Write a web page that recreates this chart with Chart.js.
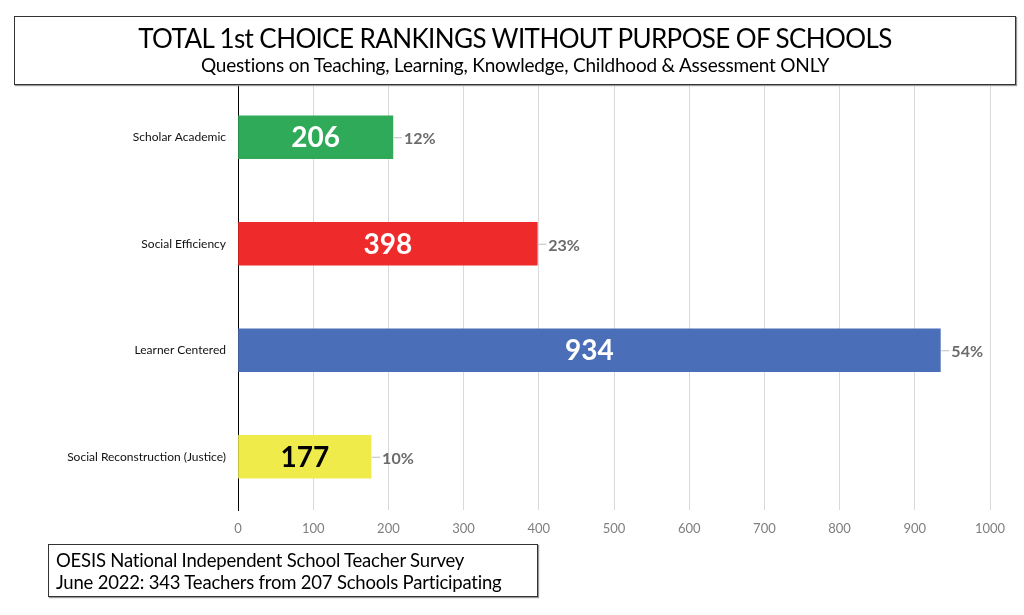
<!DOCTYPE html>
<html>
<head>
<meta charset="utf-8">
<script src="https://cdn.jsdelivr.net/npm/chart.js@4.4.1/dist/chart.umd.min.js"></script>
<style>
    html, body { margin: 0; padding: 0; background: #fff; }
    #wrap { position: relative; width: 1024px; height: 615px; font-family: Lato, 'Open Sans', sans-serif; }
    #chart { position: absolute; left: 0; top: 0; }
    .box { position: absolute; border: 1px solid #333; background: #fff; box-shadow: 1px 1px 1px #999; color: #000; }
    #titleBox { left: 14px; top: 16px; width: 1000px; height: 67px; text-align: center; }
    #titleBox .t1 { font-size: 26px; line-height: 30px; margin-top: 6px; font-weight: 400; letter-spacing: -0.6px; }
    #titleBox .t2 { font-size: 19px; line-height: 24px; font-weight: 400; letter-spacing: -0.2px; }
    #noteBox { left: 48px; top: 544px; width: 490px; height: 53px; font-size: 18.5px; line-height: 22px; padding-left: 7px; box-sizing: border-box; padding-top: 4px; font-weight: 400; letter-spacing: -0.2px; }
</style>
</head>
<body>
<div id="wrap">
    <canvas id="chart" width="1024" height="615"></canvas>
    <div class="box" id="titleBox">
        <div class="t1">TOTAL 1st CHOICE RANKINGS WITHOUT PURPOSE OF SCHOOLS</div>
        <div class="t2">Questions on Teaching, Learning, Knowledge, Childhood &amp; Assessment ONLY</div>
    </div>
    <div class="box" id="noteBox">OESIS National Independent School Teacher Survey<br>June 2022: 343 Teachers from 207 Schools Participating</div>
</div>
<script>
'use strict';

// Data
const categories = ['Scholar Academic', 'Social Efficiency', 'Learner Centered', 'Social Reconstruction (Justice)'];
const counts = [206, 398, 934, 177];
const shares = ['12%', '23%', '54%', '10%'];
const barColors = ['#2eaa58', '#ee2a2b', '#4a6fb8', '#efeb4b'];
const valueColors = ['#ffffff', '#ffffff', '#ffffff', '#000000'];
const xTicks = [0, 100, 200, 300, 400, 500, 600, 700, 800, 900, 1000];

const fontFamily = "Lato, 'Open Sans', sans-serif";

// Value labels inside the bars, share labels outside with a short leader
const barLabels = {
    id: 'barLabels',
    afterDatasetsDraw(chart) {
        const ctx = chart.ctx;
        const meta = chart.getDatasetMeta(0);
        ctx.save();
        meta.data.forEach(function (bar, i) {
            const left = bar.base;
            const right = bar.x;
            // count
            ctx.fillStyle = valueColors[i];
            ctx.font = 'bold 28px ' + fontFamily;
            ctx.textAlign = 'center';
            ctx.textBaseline = 'middle';
            ctx.fillText(String(counts[i]), (left + right) / 2, bar.y + 1);
            // leader line
            ctx.strokeStyle = '#bfbfbf';
            ctx.lineWidth = 1;
            ctx.beginPath();
            ctx.moveTo(right + 1, bar.y + 0.5);
            ctx.lineTo(right + 9, bar.y + 0.5);
            ctx.stroke();
            // share
            ctx.fillStyle = '#6b6b6b';
            ctx.font = 'bold 16px ' + fontFamily;
            ctx.textAlign = 'left';
            ctx.fillText(shares[i], right + 11, bar.y + 2);
        });
        ctx.restore();
    }
};

new Chart(document.getElementById('chart'), {
    type: 'bar',
    data: {
        labels: categories,
        datasets: [
            {
                data: counts,
                backgroundColor: barColors,
                borderWidth: 0,
                barThickness: 43
            }
        ]
    },
    options: {
        indexAxis: 'y',
        responsive: false,
        animation: false,
        layout: {
            padding: { top: 84, right: 34, bottom: 75, left: 0 }
        },
        plugins: {
            legend: { display: false },
            tooltip: { enabled: false }
        },
        scales: {
            x: {
                min: 0,
                max: 1000,
                afterBuildTicks: function (scale) {
                    scale.ticks = xTicks.map(function (v) { return { value: v }; });
                },
                afterFit: function (scale) { scale.height = 30; },
                grid: { color: '#d9d9d9', drawTicks: false },
                border: { display: false },
                ticks: {
                    color: '#7f7f7f',
                    padding: 11,
                    font: { family: fontFamily, size: 13 },
                    callback: function (value) { return String(value); }
                }
            },
            y: {
                afterFit: function (scale) { scale.width = 238; },
                grid: { display: false, drawTicks: false },
                border: { color: '#000000', width: 1 },
                ticks: {
                    color: '#111111',
                    padding: 12,
                    font: { family: fontFamily, size: 12 }
                }
            }
        }
    },
    plugins: [barLabels]
});
</script>
</body>
</html>
